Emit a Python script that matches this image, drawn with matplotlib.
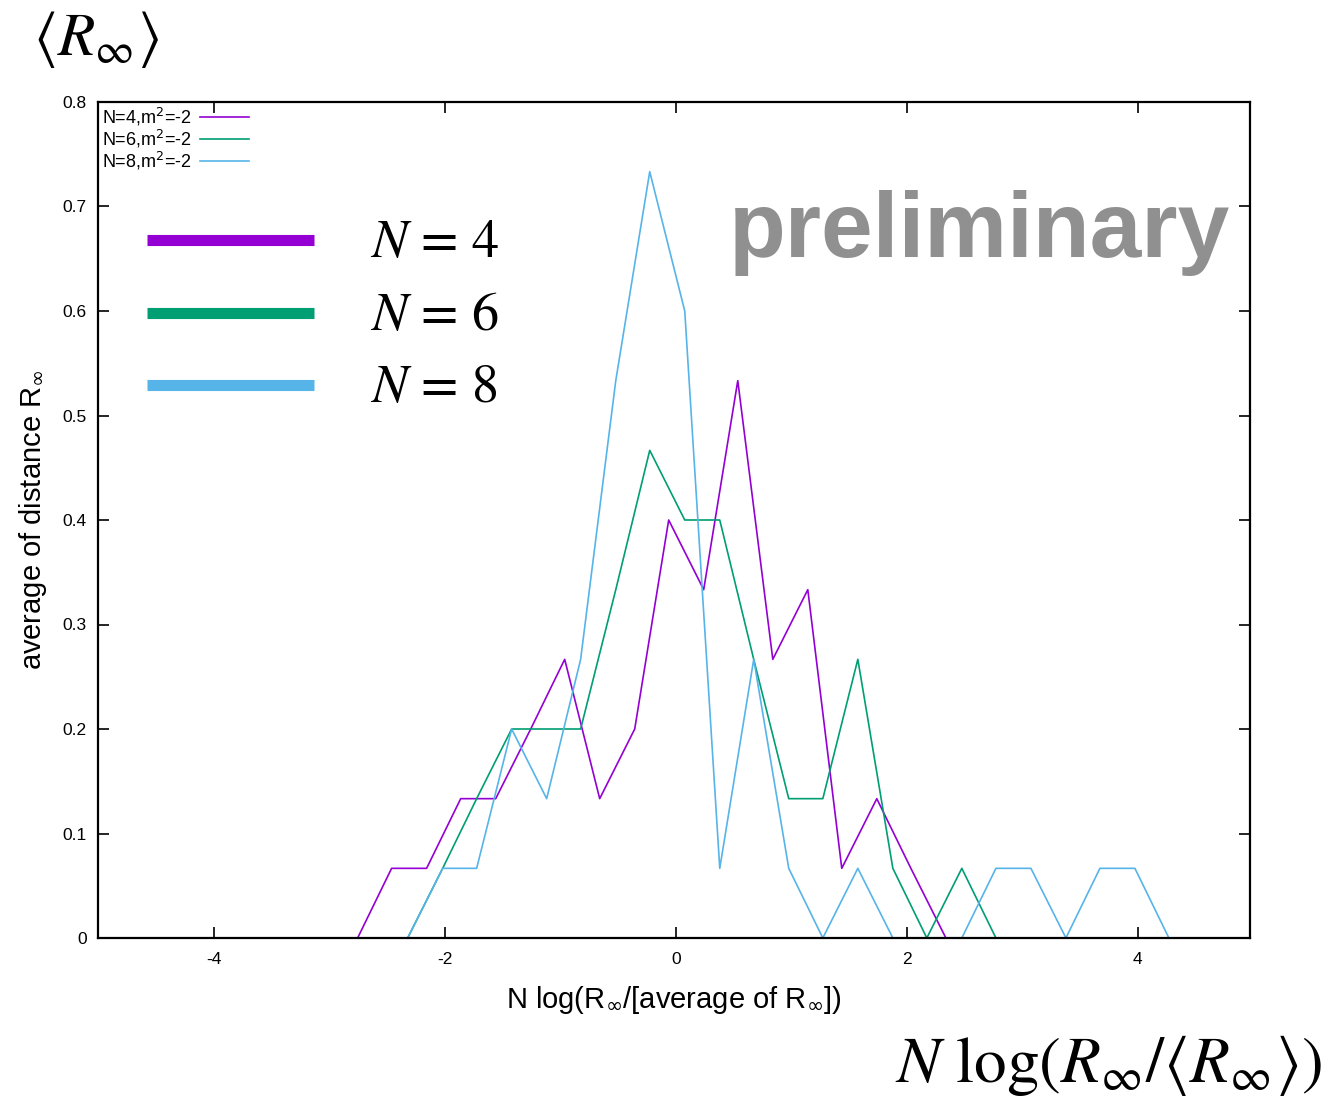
import numpy as np
import matplotlib
matplotlib.use("Agg")
import matplotlib.pyplot as plt
from matplotlib.lines import Line2D

plt.rcParams.update({
    "font.family": "Liberation Sans",
    "mathtext.fontset": "stix",
    "axes.unicode_minus": False,
})

# histogram data (values are multiples of 1/15)
x_n4 = [-2.753, -2.459, -2.156, -1.861, -1.558, -1.255, -0.961, -0.658, -0.355,
        -0.061, 0.242, 0.537, 0.840, 1.143, 1.437, 1.740, 2.035, 2.338]
y_n4 = [0, 1/15, 1/15, 2/15, 2/15, 3/15, 4/15, 2/15, 3/15,
        6/15, 5/15, 8/15, 4/15, 5/15, 1/15, 2/15, 1/15, 0]

x_n6 = [-2.320, -2.017, -1.723, -1.420, -1.117, -0.823, -0.519, -0.225, 0.078,
        0.381, 0.675, 0.978, 1.273, 1.576, 1.879, 2.173, 2.476, 2.771]
y_n6 = [0, 1/15, 2/15, 3/15, 3/15, 3/15, 5/15, 7/15, 6/15,
        6/15, 4/15, 2/15, 2/15, 4/15, 1/15, 0, 1/15, 0]

x_n8 = [-2.320, -2.017, -1.723, -1.420, -1.117, -0.823, -0.519, -0.225, 0.078,
        0.381, 0.675, 0.978, 1.273, 1.576, 1.879, 2.173, 2.476, 2.771, 3.074,
        3.377, 3.671, 3.974, 4.268]
y_n8 = [0, 1/15, 1/15, 3/15, 2/15, 4/15, 8/15, 11/15, 9/15,
        1/15, 4/15, 1/15, 0, 1/15, 0, 0, 0, 1/15, 1/15,
        0, 1/15, 1/15, 0]

labels_small = ["N=4,m$^2$=-2", "N=6,m$^2$=-2", "N=8,m$^2$=-2"]
labels_big = ["$N$ = 4", "$N$ = 6", "$N$ = 8"]
colors = ["#9400d3", "#009e73", "#56b4e9"]

W, H = 1337, 1101
fig = plt.figure(figsize=(W / 100, H / 100), dpi=100)

def fx(px):
    return px / W

def fy(py):
    return 1 - py / H

ax = fig.add_axes([fx(98), fy(938), fx(1250) - fx(98), fy(102) - fy(938)])

for xs, ys, c, lab in zip([x_n4, x_n6, x_n8], [y_n4, y_n6, y_n8], colors, labels_small):
    ax.plot(xs, ys, color=c, lw=1.2, label=lab, clip_on=False)

ax.set_xlim(-5, 4.97)
ax.set_ylim(0, 0.8)
ax.set_xticks([-4, -2, 0, 2, 4])
ax.set_yticks(np.arange(0, 0.81, 0.1))
ax.set_yticklabels(["0", "0.1", "0.2", "0.3", "0.4", "0.5", "0.6", "0.7", "0.8"])
ax.tick_params(direction="in", length=8, width=1.2, top=True, right=True,
               labelsize=12.5, pad=10)
ax.tick_params(axis="y", pad=8)
for s in ax.spines.values():
    s.set_linewidth(1.6)

ax.set_xlabel(r"N log(R$_\infty$/[average of R$_\infty$])", fontsize=21,
              labelpad=12, math_fontfamily="dejavusans")
ax.set_ylabel(r"average of distance R$_\infty$", fontsize=21, labelpad=10,
              math_fontfamily="dejavusans")

leg = ax.legend(loc="upper left", frameon=False, markerfirst=False, fontsize=13,
                handlelength=2.7, handletextpad=0.5, labelspacing=0.0,
                borderaxespad=0.05, borderpad=0.15)
for t in leg.get_texts():
    t.set_math_fontfamily("dejavusans")

# big legend overlay
for c, lab, py in zip(colors, labels_big, [240, 313, 385]):
    fig.add_artist(Line2D([fx(147), fx(314)], [fy(py), fy(py)], color=c, lw=8,
                          solid_capstyle="butt", transform=fig.transFigure))
    fig.text(fx(370), fy(py + 4), lab, fontsize=39, va="center", ha="left",
             family="STIXGeneral")

fig.text(fx(979), fy(233), "preliminary", fontsize=67, fontweight="bold",
         color="#909090", ha="center", va="center")

fig.text(fx(33), fy(40), r"$\langle R_\infty \rangle$", fontsize=44,
         ha="left", va="center")
fig.text(fx(1322), fy(1066), r"$N\ \log(R_\infty/\langle R_\infty \rangle)$",
         fontsize=47, ha="right", va="center")

fig.savefig("out.png", dpi=100)
